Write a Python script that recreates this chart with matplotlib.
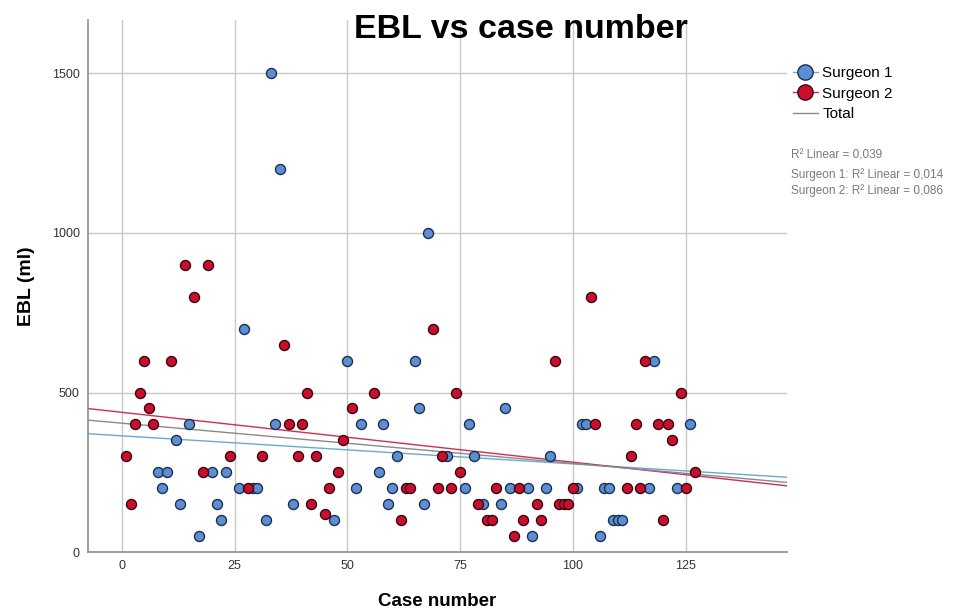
import matplotlib
matplotlib.use("Agg")
import matplotlib.pyplot as plt
from matplotlib.lines import Line2D
import numpy as np

plt.rcParams['font.family'] = ['Liberation Sans', 'DejaVu Sans']

# Surgeon 1 (blue)
s1_case = [8, 9, 10, 12, 13, 15, 17, 20, 21, 22, 23, 26, 27, 29, 30, 32, 33, 34,
           35, 38, 47, 50, 52, 53, 57, 58, 59, 60, 61, 65, 66, 67, 68, 72, 76, 77,
           78, 80, 84, 85, 86, 90, 91, 94, 95, 101, 102, 103, 106, 107, 108, 109,
           110, 111, 117, 118, 123, 126]
s1_ebl = [250, 200, 250, 350, 150, 400, 50, 250, 150, 100, 250, 200, 700, 200, 200,
          100, 1500, 400, 1200, 150, 100, 600, 200, 400, 250, 400, 150, 200, 300,
          600, 450, 150, 1000, 300, 200, 400, 300, 150, 150, 450, 200, 200, 50,
          200, 300, 200, 400, 400, 50, 200, 200, 100, 100, 100, 200, 600, 200, 400]

# Surgeon 2 (red)
s2_case = [1, 2, 3, 4, 5, 6, 7, 11, 14, 16, 18, 19, 24, 28, 31, 36, 37, 39, 40, 41,
           42, 43, 45, 46, 48, 49, 51, 56, 62, 63, 64, 69, 70, 71, 73, 74, 75, 79,
           81, 82, 83, 87, 88, 89, 92, 93, 96, 97, 98, 99, 100, 104, 105, 112, 113,
           114, 115, 116, 119, 120, 121, 122, 124, 125, 127]
s2_ebl = [300, 150, 400, 500, 600, 450, 400, 600, 900, 800, 250, 900, 300, 200, 300,
          650, 400, 300, 400, 500, 150, 300, 120, 200, 250, 350, 450, 500, 100, 200,
          200, 700, 200, 300, 200, 500, 250, 150, 100, 100, 200, 50, 200, 100, 150,
          100, 600, 150, 150, 150, 200, 800, 400, 200, 300, 400, 200, 600, 400, 100,
          400, 350, 500, 200, 250]

r2_labels = ["R\u00b2 Linear = 0,039",
             "Surgeon 1: R\u00b2 Linear = 0,014",
             "Surgeon 2: R\u00b2 Linear = 0,086"]

blue_fill, blue_edge, blue_line = "#5b8fd4", "#1c2f4f", "#6aa8d8"
red_fill, red_edge, red_line = "#c8102e", "#3a0610", "#d42a55"
total_line = "#8a8a8a"

fig = plt.figure(figsize=(9.79, 6.10), dpi=100)
ax = fig.add_axes([0.0899, 0.095, 0.714, 0.872])

xlim = (-7.5, 147.5)
ax.set_xlim(*xlim)
ax.set_ylim(0, 1667)

# fit lines across the full axis range
xs = np.array(xlim)
all_case = np.array(s1_case + s2_case)
all_ebl = np.array(s1_ebl + s2_ebl)
for xc, yc, col in [(s1_case, s1_ebl, blue_line), (s2_case, s2_ebl, red_line),
                    (all_case, all_ebl, total_line)]:
    k, b = np.polyfit(xc, yc, 1)
    ax.plot(xs, k * xs + b, color=col, lw=1.0, zorder=2)

ax.scatter(s1_case, s1_ebl, s=52, c=blue_fill, edgecolors=blue_edge, linewidths=1.0, zorder=3)
ax.scatter(s2_case, s2_ebl, s=52, c=red_fill, edgecolors=red_edge, linewidths=1.0, zorder=3)

ax.set_xticks([0, 25, 50, 75, 100, 125])
ax.set_yticks([0, 500, 1000, 1500])
ax.grid(True, color="#c8c8c8", lw=1.0, zorder=0)
ax.set_axisbelow(True)
for side in ["top", "right"]:
    ax.spines[side].set_visible(False)
for side in ["left", "bottom"]:
    ax.spines[side].set_color("#8c8c8c")
    ax.spines[side].set_linewidth(1.2)
ax.tick_params(length=0, labelsize=9, colors="#333333", pad=6)

ax.set_xlabel("Case number", fontsize=13.5, fontweight="bold", labelpad=15)
ax.set_ylabel("EBL (ml)", fontsize=14, fontweight="bold", labelpad=12)
fig.text(0.532, 0.952, "EBL vs case number", fontsize=24.5, fontweight="bold",
         ha="center", va="center")

handles = [
    Line2D([], [], marker="o", markersize=11, markerfacecolor=blue_fill,
           markeredgecolor=blue_edge, color=blue_line, lw=1.0),
    Line2D([], [], marker="o", markersize=11, markerfacecolor=red_fill,
           markeredgecolor=red_edge, color=red_line, lw=1.0),
    Line2D([], [], color=total_line, lw=1.0),
]
leg = ax.legend(handles, ["Surgeon 1", "Surgeon 2", "Total"], loc="upper left",
                bbox_to_anchor=(1.0, 0.925), frameon=False, fontsize=11,
                handlelength=1.6, handletextpad=0.3, labelspacing=0.42,
                borderaxespad=0)

fig.text(0.808, 0.745, r2_labels[0], fontsize=8.5, color="#7a7a7a", va="center")
fig.text(0.808, 0.714, r2_labels[1], fontsize=8.5, color="#7a7a7a", va="center")
fig.text(0.808, 0.688, r2_labels[2], fontsize=8.5, color="#7a7a7a", va="center")

fig.savefig("out.png", dpi=100)
